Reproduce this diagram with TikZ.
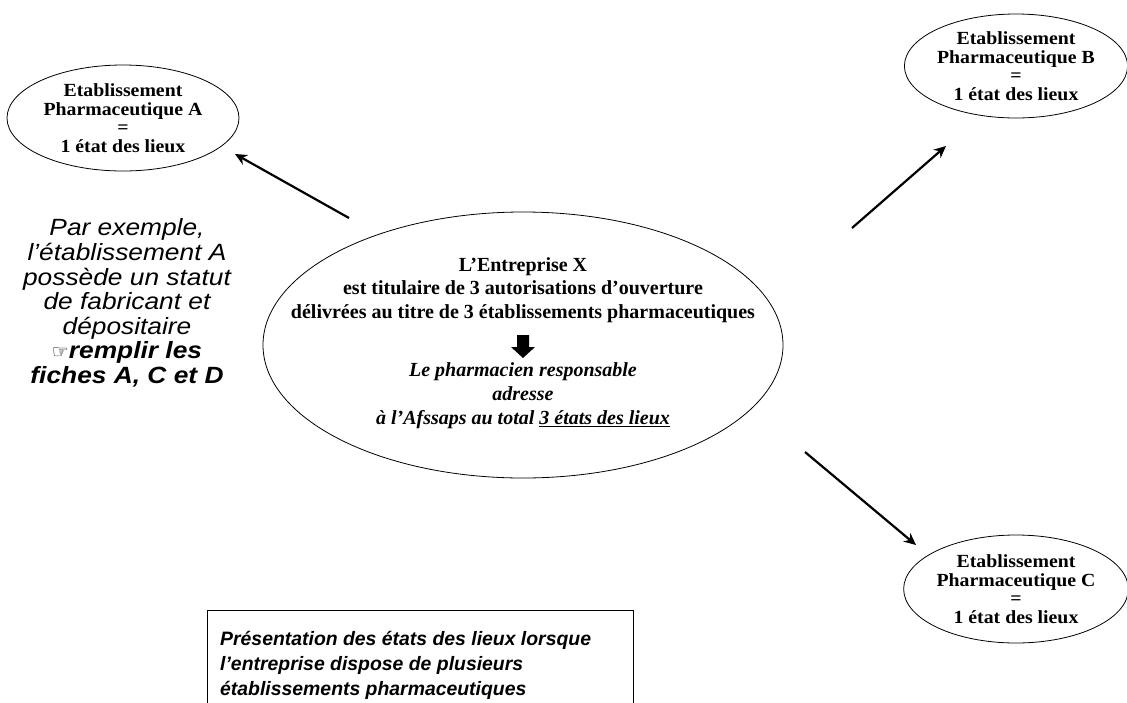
\documentclass[tikz,border=0pt]{standalone}
\usepackage{fontspec}
\setmainfont{Liberation Serif}
\newfontfamily\timesw[FakeStretch=1.07]{Liberation Serif}
\newfontfamily\arialf{Liberation Sans}
\newfontfamily\arialw[FakeStretch=1.12]{Liberation Sans}
\newfontfamily\symf{DejaVu Sans}
\usetikzlibrary{shapes.geometric,arrows.meta}
\begin{document}
\begin{tikzpicture}[x=1pt,y=-1pt,
 etab/.style={ellipse,draw,line width=0.8pt,inner sep=0pt,align=center,font=\fontsize{18.5}{18.5}\selectfont\timesw\bfseries},
 conn/.style={line width=2.2pt,-{Stealth[length=12pt,width=11pt]}},
 maintxt/.style={align=center,inner sep=0pt},
]
\clip (0,0) rectangle (1127,702);
\fill[white] (0,0) rectangle (1127,702);

% main ellipse
\node[ellipse,draw,line width=0.8pt,minimum width=520pt,minimum height=266pt] (X) at (523,345) {};
\node[maintxt,font=\fontsize{20}{23.5}\selectfont\bfseries] (Xtop) at (523,290)
 {L’Entreprise X\\est titulaire de 3 autorisations d’ouverture\\délivrées au titre de 3 établissements pharmaceutiques};
\node[maintxt,font=\fontsize{20}{24}\selectfont\bfseries\itshape] (Xbot) at (523,396)
 {Le pharmacien responsable\\adresse\\à l’Afssaps au total \underline{3 états des lieux}};
% block arrow
\fill (517,335) -- (529,335) -- (529,347) -- (535,347) -- (523,358) -- (511,347) -- (517,347) -- cycle;

% satellite ellipses
\node[etab,minimum width=232pt,minimum height=106pt] (A) at (123,118)
 {Etablissement\\Pharmaceutique A\\=\\1 état des lieux};
\node[etab,minimum width=214pt,minimum height=104pt] (B) at (1016,66)
 {Etablissement\\Pharmaceutique B\\=\\1 état des lieux};
\node[etab,minimum width=216pt,minimum height=108pt] (C) at (1016,589)
 {Etablissement\\Pharmaceutique C\\=\\1 état des lieux};

% connectors
\coordinate (xa) at (349,218);
\coordinate (ea) at (235,154);
\coordinate (xb) at (852,228);
\coordinate (eb) at (946,146);
\coordinate (xc) at (805,452);
\coordinate (ec) at (916,545);
\draw[conn] (xa) -- (ea);
\draw[conn] (xb) -- (eb);
\draw[conn] (xc) -- (ec);

% left example text
\node[align=center,inner sep=0pt,font=\fontsize{23.5}{24.6}\selectfont\arialw\itshape] (ex) at (127,303)
 {Par exemple,\\l’établissement A\\possède un statut\\de fabricant et\\dépositaire\\{\symf\mdseries\upshape\fontsize{19}{19}\selectfont ☞}\textbf{remplir les}\\\textbf{fiches A, C et D}};

% caption box
\draw[line width=0.8pt] (207,610) rectangle (633,720);
\node[anchor=west,align=left,inner sep=0pt,font=\fontsize{19.4}{25}\selectfont\arialf\bfseries\itshape] (cap) at (220,665)
 {Présentation des états des lieux lorsque\\l’entreprise dispose de plusieurs\\établissements pharmaceutiques};
\end{tikzpicture}
\end{document}
